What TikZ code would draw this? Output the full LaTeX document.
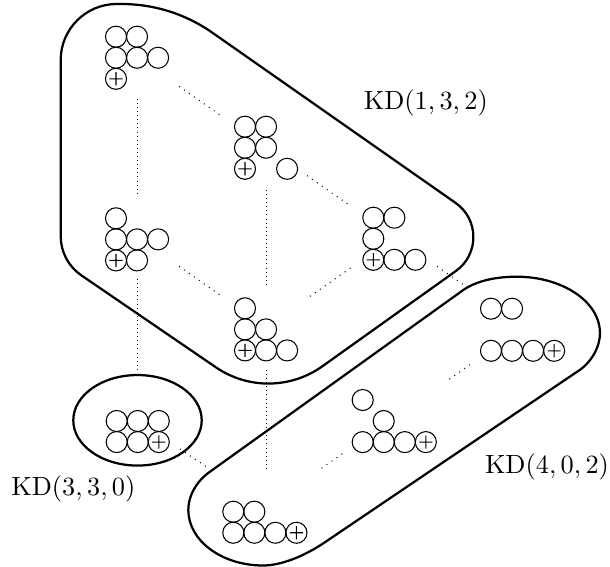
\documentclass[tikz,border=0pt]{standalone}
\usetikzlibrary{calc}
\tikzset{
  cell/.style={line width=0.4pt},
  blob/.style={line width=0.85pt, line join=round},
  diagline/.style={line width=0.4pt, dash pattern=on 0.35pt off 1.95pt},
  vertline/.style={line width=0.35pt, dash pattern=on 0.3pt off 1.25pt},
  lbl/.style={inner sep=0pt}
}
\newcommand\ydcells[2]{\foreach \c/\r in {#2}{\draw[cell] ([shift={(\c*21.05,\r*21.05)}]#1) circle[radius=4pt];}}
\newcommand\ydplus[3]{\path ([shift={(#2*21.05,#3*21.05)}]#1) coordinate (pc);
  \draw[cell] (pc) circle[radius=4pt] ($(pc)+(-2.5pt,0)$) -- ($(pc)+(2.5pt,0)$) ($(pc)+(0,-2.5pt)$) -- ($(pc)+(0,2.5pt)$);}
\newcommand\conn[5]{\draw[#1] ($(#2)!#4!(#3)$) -- ($(#2)!#5!(#3)$);}
\begin{document}
\begin{tikzpicture}[x=0.38pt,y=-0.38pt]
\useasboundingbox (0,0) rectangle (610,567);
% lattice points
\coordinate (L1) at (137,57);
\coordinate (L2) at (266,147);
\coordinate (L3) at (137,237);
\coordinate (L4) at (266,327);
\coordinate (L5) at (395,237);
\coordinate (L6) at (524,327);
\coordinate (L7) at (395,417);
\coordinate (L8) at (266,507);
\coordinate (L9) at (137,420);
% diagram origins (top-left cell centres)
\coordinate (D1) at (116,36.7);
\coordinate (D2) at (245,126.7);
\coordinate (D3) at (116,218.3);
\coordinate (D4) at (245,308.3);
\coordinate (D5) at (373.3,217.7);
\coordinate (D6) at (491,308.7);
\coordinate (D7) at (362.7,400);
\coordinate (D8) at (233.3,511.7);
\coordinate (D9) at (116.7,421);
% diagrams
\ydcells{D1}{0/0,1/0,0/1,1/1,2/1}\ydplus{D1}{0}{2}
\ydcells{D2}{0/0,1/0,0/1,1/1,2/2}\ydplus{D2}{0}{2}
\ydcells{D3}{0/0,0/1,1/1,2/1,1/2}\ydplus{D3}{0}{2}
\ydcells{D4}{0/0,0/1,1/1,1/2,2/2}\ydplus{D4}{0}{2}
\ydcells{D5}{0/0,1/0,0/1,1/2,2/2}\ydplus{D5}{0}{2}
\ydcells{D6}{0/0,1/0,0/2,1/2,2/2}\ydplus{D6}{3}{2}
\ydcells{D7}{0/0,1/1,0/2,1/2,2/2}\ydplus{D7}{3}{2}
\ydcells{D8}{0/0,1/0,0/1,1/1,2/1}\ydplus{D8}{3}{1}
\ydcells{D9}{0/0,1/0,2/0,0/1,1/1}\ydplus{D9}{2}{1}
% connectors
\conn{diagline}{L1}{L2}{0.326}{0.657}
\conn{vertline}{L1}{L3}{0.233}{0.767}
\conn{diagline}{L2}{L5}{0.318}{0.651}
\conn{diagline}{L3}{L4}{0.326}{0.657}
\conn{vertline}{L2}{L4}{0.239}{0.776}
\conn{diagline}{L4}{L5}{0.341}{0.674}
\conn{vertline}{L3}{L9}{0.23}{0.738}
\conn{vertline}{L4}{L8}{0.239}{0.783}
\conn{diagline}{L5}{L6}{0.326}{0.527}
\conn{diagline}{L6}{L7}{0.419}{0.587}
\conn{diagline}{L7}{L8}{0.409}{0.581}
\conn{diagline}{L9}{L8}{0.333}{0.54}
% blobs
\draw[blob] (116.7,4) -- (121.4,4) .. controls (154,4) and (185.7,14.0) .. (212.4,32.7)
  -- (455.6,202.9) .. controls (479.2,219.4) and (479.3,254.3) .. (455.9,271.0)
  -- (322.5,366.2) .. controls (290.7,388.9) and (248.2,389.4) .. (215.9,367.3)
  -- (81.3,275.3) .. controls (68.4,266.5) and (60.7,251.8) .. (60.7,236.2)
  -- (60.7,60) .. controls (60.7,29.1) and (85.8,4) .. (116.7,4) -- cycle;
\draw[blob] (210,471.7) -- (463.3,290) .. controls (475.6,281.4) and (494.3,276.7) .. (516.7,276.7)
  .. controls (562.7,276.7) and (600,301.9) .. (600,333)
  .. controls (600,347.6) and (590.7,363.6) .. (576.7,372)
  -- (325,542.2) .. controls (303.3,556.9) and (280.4,565.5) .. (263,565.5)
  .. controls (221.8,565.5) and (188.3,540.6) .. (188.3,510)
  .. controls (188.3,495.6) and (196.4,481.3) .. (210,471.7) -- cycle;
\draw[blob] (137.5,420.3) ellipse[x radius=24.4pt, y radius=17.2pt];
% labels
\node[lbl] (k1) at (425.8,102.7) {$\mathrm{KD}(1,3,2)$};
\node[lbl] (k2) at (73.4,489.2) {$\mathrm{KD}(3,3,0)$};
\node[lbl] (k3) at (547,466.7) {$\mathrm{KD}(4,0,2)$};
\end{tikzpicture}
\end{document}
